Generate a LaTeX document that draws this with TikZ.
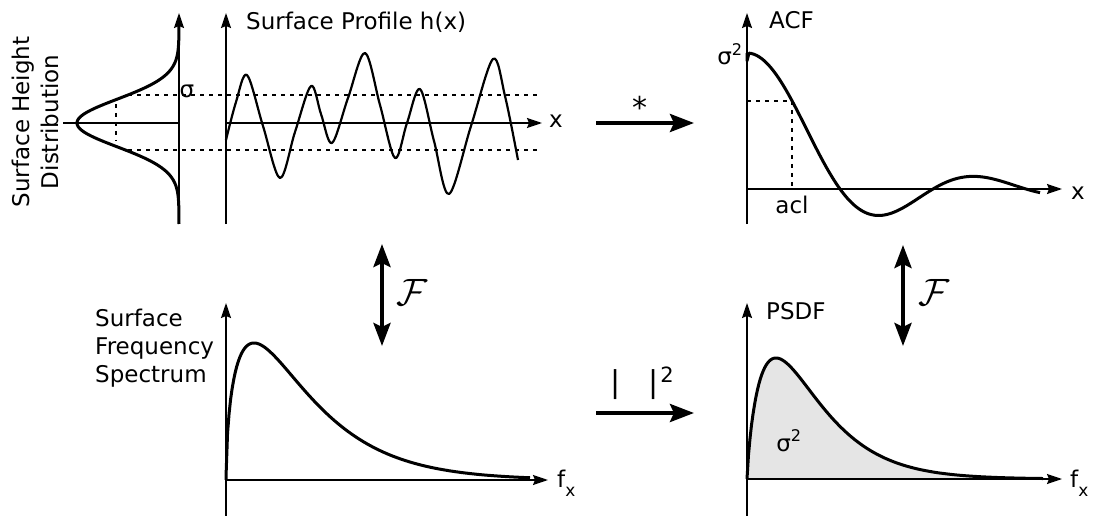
\documentclass[tikz,border=0pt]{standalone}
\usepackage{fontspec}
\setmainfont{DejaVu Sans}
\usetikzlibrary{positioning, arrows.meta, calc}

\definecolor{psdfgray}{gray}{0.9}
\newcommand{\fsub}{\raisebox{-9pt}{\fontsize{17}{17}\selectfont x}}
\newcommand{\fourier}{\scalebox{1.53}{\fontsize{24.88}{28}\selectfont$\mathcal{F}$}}

\begin{document}
\begin{tikzpicture}[
		x=1pt, y=-1pt,
		font=\fontsize{23}{28}\selectfont,
		axis/.style={line width=1.6pt, -{Stealth[length=15pt, width=10pt, inset=2pt]}},
		curve/.style={line width=3pt, line join=round},
		guide/.style={line width=1.5pt, dash pattern=on 4pt off 5pt},
		trans/.style={line width=4pt, -{Stealth[length=24pt, width=18pt, inset=4pt]}},
		biarrow/.style={line width=4pt, {Stealth[length=23pt, width=17pt, inset=4pt]}-{Stealth[length=23pt, width=17pt, inset=4pt]}},
		lbl/.style={inner sep=0pt},
		big/.style={inner sep=0pt, font=\fontsize{30}{32}\selectfont}
		]
		
		\useasboundingbox (0,0) rectangle (1093,516);
		
		% Panel origins
		\coordinate (dist) at (179,123);
		\coordinate (prof) at (226,123);
		\coordinate (acf) at (747,189);
		\coordinate (spec) at (226,480);
		\coordinate (psdf) at (747,479);
		
		% Surface height distribution
		\draw[line width=1.6pt] (63,123) -- (dist);
		\draw[axis] (179,224) -- (179,13);
		\draw[guide] (116,104) -- (116,141);
		\draw[curve] plot[domain=-103:101, samples=150] ({179-102*exp(-0.5*(\x/23.8)*(\x/23.8))}, {123+\x});
		\node[lbl, rotate=90, align=center, font=\fontsize{23}{29}\selectfont] (distlabel) at (35,122) {Surface Height\\Distribution};
		
		% Surface profile
		\draw[guide] (128,95) -- (539,95);
		\draw[guide] (128,150) -- (539,150);
		\draw[axis] (226,224) -- (226,13);
		\draw[axis] (prof) -- (542,123);
		\draw[line width=2.2pt, line join=round] plot[smooth, tension=0.55] coordinates {
			(226,140) (236,102) (247,75) (263,126) (280,178) (295,132) (311,86)
			(321,114) (332,143) (348,98) (365,53) (380,105) (395,158) (407,123)
			(420,89) (434,141) (449,194) (471,126) (493,59) (505,96) (518,160)};
		\node[lbl, anchor=base] (sigma) at (187,98) {σ};
		\node[lbl, anchor=base west] (proftitle) at (246,30) {Surface Profile h(x)};
		\node[lbl, anchor=base west] (profx) at (549,128) {x};
		
		% Autocorrelation function
		\draw[axis] (747,224) -- (747,13);
		\draw[axis] (acf) -- (1062,189);
		\coordinate (acl) at (792,101);
		\draw[guide] (747,101) -- (acl) -- (792,189);
		\draw[curve] (747,53) -- plot[domain=0.01:293, samples=150] ({747+\x}, {189-136*sin(\x/93*180)/(pi*\x/93)*exp(-(\x/400)*(\x/400))});
		\node[lbl, anchor=base] (acfsigma) at (730,65) {σ\textsuperscript{2}};
		\node[lbl, anchor=base west] (acftitle) at (769,29) {ACF};
		\node[lbl, anchor=base] (acllabel) at (792,213) {acl};
		\node[lbl, anchor=base west] (acfx) at (1071,200) {x};
		
		% Surface frequency spectrum
		\draw[axis] (226,516) -- (226,303);
		\draw[axis] (spec) -- (548,480);
		\draw[curve] (spec) -- plot[domain=0.01:304, samples=200] ({226+\x}, {480-137*(\x/28)^0.55*exp(-(\x-28)/50.9)});
		\node[lbl, anchor=north west, align=left] (spectitle) at (95,309) {Surface\\Frequency\\Spectrum};
		\node[lbl, anchor=base west] (specf) at (557,487) {f\fsub};
		
		% Power spectral density function
		\fill[psdfgray] (psdf) -- plot[domain=0.01:296, samples=200] ({747+\x}, {479-121*(\x/29)^0.8*exp(-(\x-29)/36.25)}) -- cycle;
		\draw[axis] (747,516) -- (747,303);
		\draw[axis] (psdf) -- (1062,479);
		\draw[curve] (psdf) -- plot[domain=0.01:296, samples=200] ({747+\x}, {479-121*(\x/29)^0.8*exp(-(\x-29)/36.25)});
		\node[lbl, anchor=base] (psdfsigma) at (789,451) {σ\textsuperscript{2}};
		\node[lbl, anchor=base west] (psdftitle) at (766,319) {PSDF};
		\node[lbl, anchor=base west] (psdff) at (1070,487) {f\fsub};
		
		% Transforms
		\coordinate (prof-out) at (596,123);
		\coordinate (acf-in) at (694,123);
		\coordinate (spec-out) at (596,413);
		\coordinate (psdf-in) at (694,413);
		\coordinate (prof-bot) at (382,244);
		\coordinate (spec-top) at (382,346);
		\coordinate (acf-bot) at (903,245);
		\coordinate (psdf-top) at (903,346);
		
		\draw[trans] (prof-out) -- (acf-in);
		\node[big, anchor=base] (conv) at (640,119) {*};
		\draw[trans] (spec-out) -- (psdf-in);
		\node[big, anchor=base west] (abssq) at (610,392) {|\hspace{28pt}|\hspace{2pt}\textsuperscript{2}};
		
		\draw[biarrow] (prof-bot) -- (spec-top);
		\node[lbl, anchor=base] (fourierL) at (412,305) {\fourier};
		\draw[biarrow] (acf-bot) -- (psdf-top);
		\node[lbl, anchor=base] (fourierR) at (934,305) {\fourier};
		
	\end{tikzpicture}
\end{document}
